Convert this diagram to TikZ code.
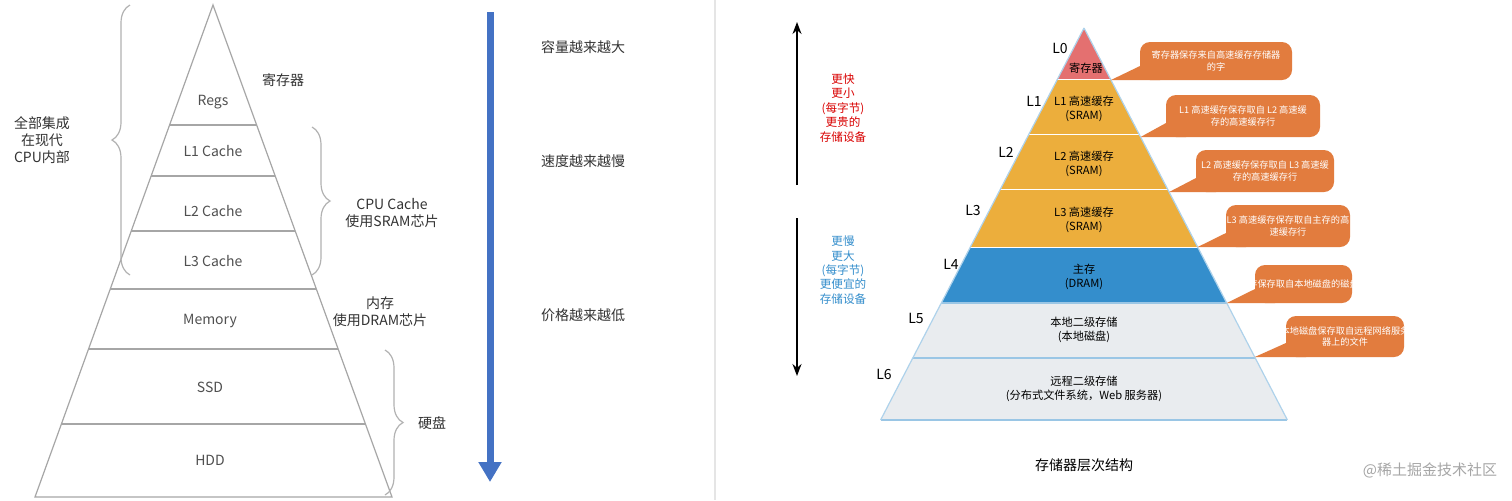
\documentclass[tikz,border=0pt]{standalone}
\usepackage{fontspec}
\setmainfont{Noto Sans CJK SC}
\usetikzlibrary{decorations.pathreplacing,arrows.meta}
\definecolor{gt}{RGB}{80,80,80}
\definecolor{lr}{RGB}{228,112,112}
\definecolor{lo}{RGB}{236,174,60}
\definecolor{lb}{RGB}{52,142,204}
\definecolor{lg}{RGB}{233,236,239}
\definecolor{co}{RGB}{226,124,62}
\definecolor{bl}{RGB}{68,114,196}
\tikzset{
 lt/.style={text=gt,font=\fontsize{7}{8.5}\selectfont,align=center},
 rt/.style={font=\fontsize{5.6}{6.8}\selectfont,align=center},
 lvl/.style={font=\fontsize{7}{8}\selectfont},
 br/.style={decorate,decoration={brace,amplitude=9pt},draw=gray!60,line width=0.6pt},
 callout/.style={fill=co,draw=none},
 ct/.style={text=white,font=\fontsize{4.6}{5.8}\selectfont,align=center}
}
\begin{document}
\begin{tikzpicture}[x=0.5pt,y=-0.5pt]
\useasboundingbox (0,0) rectangle (1512,500);
\fill[white] (0,0) rectangle (1512,500);
% left pyramid
\draw[gray!70,line width=0.6pt] (213,5) -- (35,497) -- (392,497) -- cycle;
\foreach \yy in {125,176,231,289,349,424}{
 \pgfmathsetmacro\hwA{(\yy-5)/492*178.5}
 \draw[gray!70,line width=0.6pt] ({213-\hwA},\yy) -- ({213+\hwA},\yy);}
\node[lt] (regs) at (213,102) {Regs};
\node[lt] (l1c) at (213,151) {L1 Cache};
\node[lt] (l2c) at (213,211) {L2 Cache};
\node[lt] (l3c) at (213,261) {L3 Cache};
\node[lt] (mem) at (210,321) {Memory};
\node[lt] (ssd) at (210,387) {SSD};
\node[lt] (hdd) at (210,460) {HDD};
\draw[br] (130,275) -- (130,5);
\node[lt,text=black!80] (allcpu) at (42,140) {全部集成\\在现代\\CPU内部};
\node[lt,text=black!80] (reg) at (283,80) {寄存器};
\draw[br] (312,127) -- (312,275);
\node[lt,text=black!80] (cpuc) at (392,213) {CPU Cache\\使用SRAM芯片};
\node[lt,text=black!80] (dram) at (380,312) {内存\\使用DRAM芯片};
\draw[br] (385,350) -- (385,495);
\node[lt,text=black!80] (disk) at (432,423) {硬盘};
\coordinate (a1) at (490,12); \coordinate (a2) at (490,482);
\draw[bl,line width=3.5pt,-{Triangle[length=10pt,width=11pt]}] (a1) -- (a2);
\node[lt,text=black!80] (t1) at (583,47) {容量越来越大};
\node[lt,text=black!80] (t2) at (583,161) {速度越来越慢};
\node[lt,text=black!80] (t3) at (583,315) {价格越来越低};
\draw[gray!20,line width=1pt] (715,0) -- (715,500);
% right pyramid
\foreach \ya/\yb/\c in {28/80/lr,80/135/lo,135/190/lo,190/248/lo,248/303/lb,303/358/lg,358/420/lg}{
 \pgfmathsetmacro\wa{(\ya-28)*0.519}
 \pgfmathsetmacro\wb{(\yb-28)*0.519}
 \fill[\c] ({1084-\wa},\ya) -- ({1084+\wa},\ya) -- ({1084+\wb},\yb) -- ({1084-\wb},\yb) -- cycle;
 \draw[white,line width=0.8pt] ({1084-\wb},\yb) -- ({1084+\wb},\yb);}
\foreach \yb in {303,358,420}{
 \pgfmathsetmacro\wb{(\yb-28)*0.519}
 \draw[lb!50,line width=0.8pt] ({1084-\wb},\yb) -- ({1084+\wb},\yb);}
\draw[lb!40,line width=0.6pt] (1084,28) -- (880.6,420) (1084,28) -- (1287.4,420);
\node[rt] (n0) at (1086,68) {寄存器};
\node[rt] (n1) at (1084,109) {L1 高速缓存\\(SRAM)};
\node[rt] (n2) at (1084,164) {L2 高速缓存\\(SRAM)};
\node[rt] (n3) at (1084,220) {L3 高速缓存\\(SRAM)};
\node[rt] (n4) at (1084,277) {主存\\(DRAM)};
\node[rt] (n5) at (1084,330) {本地二级存储\\(本地磁盘)};
\node[rt] (n6) at (1084,389) {远程二级存储\\(分布式文件系统，Web 服务器)};
\node[lvl] (L0) at (1060,48) {L0};
\node[lvl] (L1) at (1034,101) {L1};
\node[lvl] (L2) at (1006,152) {L2};
\node[lvl] (L3) at (973,210) {L3};
\node[lvl] (L4) at (951,264) {L4};
\node[lvl] (L5) at (916,318) {L5};
\node[lvl] (L6) at (884,374) {L6};
% callouts
\foreach \xa/\xb/\ya/\yb/\tx/\nm in {
 1140/1292/42/80/{寄存器保存来自高速缓存存储器\\的字}/c0,
 1166/1320/95/137/{L1 高速缓存保存取自 L2 高速缓\\存的高速缓存行}/c1,
 1196/1334/150/192/{L2 高速缓存保存取自 L3 高速缓\\存的高速缓存行}/c2,
 1226/1350/205/247/{L3 高速缓存保存取自主存的高\\速缓存行}/c3,
 1255/1352/265/303/{主存保存取自本地磁盘的磁盘块}/c4,
 1286/1404/316/357/{本地磁盘保存取自远程网络服务\\器上的文件}/c5}{
 \pgfmathsetmacro\ex{1084+(\yb-28)*0.519}
 \fill[callout,rounded corners=5pt] (\xa,\ya) rectangle (\xb,\yb);
 \fill[callout] (\xa,{\yb-14}) -- ({\xa+20},\yb) -- (\ex,\yb) -- cycle;
 \node[ct] (\nm) at ({(\xa+\xb)/2},{(\ya+\yb)/2}) {\tx};}
\coordinate (u1) at (797,185); \coordinate (u2) at (797,22);
\coordinate (d1) at (797,218); \coordinate (d2) at (797,376);
\draw[line width=0.8pt,-{Stealth[length=6pt]}] (u1) -- (u2);
\draw[line width=0.8pt,-{Stealth[length=6pt]}] (d1) -- (d2);
\node[rt,text=red!85!black,font=\fontsize{5.8}{7.2}\selectfont] (fast) at (843,108) {更快\\更小\\(每字节)\\更贵的\\存储设备};
\node[rt,text=lb,font=\fontsize{5.8}{7.2}\selectfont] (slow) at (843,270) {更慢\\更大\\(每字节)\\更便宜的\\存储设备};
\node[font=\fontsize{7}{8}\selectfont] (cap) at (1084,465) {存储器层次结构};
\node[text=gray!70,font=\fontsize{7.5}{8}\selectfont] (wm) at (1430,470) {@稀土掘金技术社区};
\end{tikzpicture}
\end{document}
